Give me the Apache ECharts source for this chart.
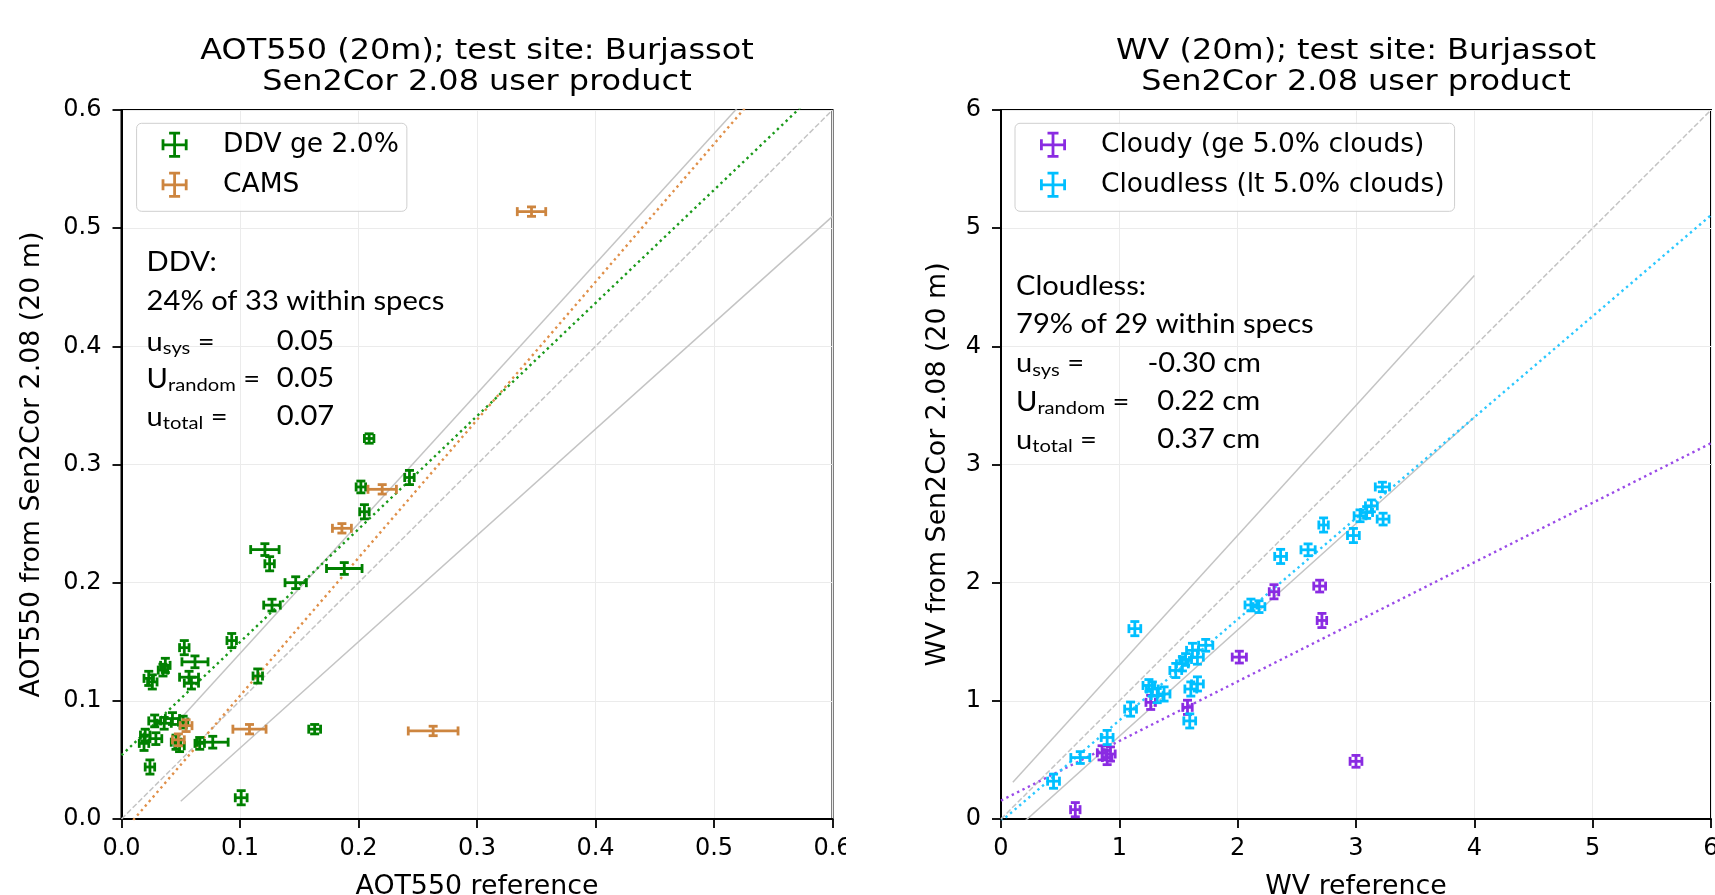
<!DOCTYPE html>
<html><head><meta charset="utf-8">
<script src="https://cdn.jsdelivr.net/npm/echarts@6/dist/echarts.min.js"></script>
<style>html,body{margin:0;padding:0;background:#fff}#c{width:1715px;height:895px}</style>
</head><body><div id="c"></div>
<script>
// ---------------- DATA ----------------
// [x, y, xerr, yerr]
const ddvPoints = [
  [0.101,0.018,0.005,0.006],[0.024,0.044,0.004,0.006],[0.019,0.064,0.004,0.006],
  [0.020,0.071,0.004,0.005],[0.029,0.068,0.005,0.005],[0.028,0.083,0.005,0.005],
  [0.036,0.081,0.006,0.005],[0.043,0.085,0.006,0.005],[0.046,0.065,0.004,0.006],
  [0.066,0.064,0.004,0.005],[0.077,0.065,0.013,0.005],[0.023,0.119,0.004,0.006],
  [0.026,0.116,0.004,0.006],[0.037,0.130,0.004,0.006],[0.035,0.126,0.004,0.005],
  [0.053,0.145,0.004,0.006],[0.062,0.133,0.011,0.005],[0.057,0.120,0.008,0.005],
  [0.059,0.115,0.006,0.005],[0.093,0.151,0.004,0.006],[0.115,0.121,0.004,0.006],
  [0.127,0.181,0.007,0.005],[0.147,0.200,0.009,0.005],[0.121,0.228,0.012,0.005],
  [0.125,0.216,0.004,0.006],[0.188,0.212,0.015,0.005],[0.163,0.076,0.005,0.004],
  [0.209,0.322,0.004,0.004],[0.202,0.281,0.004,0.005],[0.243,0.289,0.004,0.006],
  [0.205,0.260,0.004,0.006],[0.052,0.082,0.004,0.005],[0.049,0.062,0.004,0.005]
];
const camsPoints = [
  [0.0545,0.079,0.005,0.005],[0.048,0.067,0.005,0.005],[0.108,0.076,0.014,0.004],
  [0.186,0.246,0.008,0.004],[0.220,0.279,0.012,0.004],[0.263,0.0745,0.021,0.004],
  [0.346,0.514,0.012,0.004]
];
const cloudyPoints = [
  [0.628,0.079,0.04,0.06],[0.854,0.56,0.04,0.06],[0.897,0.52,0.04,0.06],
  [0.925,0.55,0.04,0.06],[1.265,0.987,0.04,0.06],[1.576,0.945,0.04,0.06],
  [2.014,1.37,0.06,0.05],[2.307,1.923,0.04,0.06],[2.693,1.971,0.05,0.05],
  [2.712,1.68,0.04,0.06],[3.0,0.488,0.05,0.05]
];
const cloudlessPoints = [
  [1.131,1.611,0.05,0.06],[0.444,0.32,0.05,0.06],[0.67,0.52,0.08,0.05],
  [0.897,0.69,0.05,0.06],[1.095,0.93,0.05,0.06],[1.279,1.10,0.05,0.06],
  [1.32,1.044,0.05,0.06],[1.378,1.058,0.05,0.06],[1.477,1.257,0.05,0.06],
  [1.533,1.313,0.05,0.06],[1.618,1.427,0.05,0.06],[1.66,1.37,0.05,0.06],
  [1.73,1.47,0.06,0.05],[1.604,1.10,0.05,0.06],[1.66,1.143,0.05,0.06],
  [1.595,0.83,0.05,0.06],[2.112,1.811,0.05,0.05],[2.18,1.797,0.05,0.05],
  [2.363,2.222,0.05,0.06],[2.595,2.278,0.06,0.05],[2.726,2.488,0.04,0.06],
  [2.978,2.399,0.05,0.06],[3.034,2.566,0.05,0.05],[3.09,2.594,0.05,0.05],
  [3.13,2.65,0.05,0.05],[3.223,2.81,0.06,0.04],[3.229,2.538,0.05,0.05],
  [1.25,1.13,0.05,0.05],[1.56,1.35,0.05,0.05]
];
// reference / spec / fit lines (end points)
const aotOneToOne  = [[0,0],[0.6,0.6]];
const aotSpecUpper = [[0.05,0.085],[0.6,0.69]];
const aotSpecLower = [[0.05,0.015],[0.6,0.51]];
const ddvFit       = [[0,0.054],[0.6,0.628]];
const camsFit      = [[0,-0.0125],[0.6,0.688]];
const wvOneToOne   = [[0,0],[6,6]];
const wvSpecUpper  = [[0.1,0.31],[4,4.6]];
const wvSpecLower  = [[0.1,-0.11],[4,3.4]];
const cloudyFit    = [[0,0.156],[6,3.18]];
const cloudlessFit = [[0,-0.02],[6,5.11]];
// tick settings
const aotTicks = {min:0, max:0.6, interval:0.1};
const wvTicks  = {min:0, max:6, interval:1};

// ---------------- CHART ----------------
const FONT = 'DejaVu Sans';
const TFONT = 'Lato';
const chart = echarts.init(document.getElementById('c'), null, {renderer:'canvas'});

function errRender(params, api) {
  const x = api.value(0), y = api.value(1), ex = api.value(2), ey = api.value(3);
  const l = api.coord([x-ex, y]), r = api.coord([x+ex, y]);
  const b = api.coord([x, y-ey]), t = api.coord([x, y+ey]);
  const cap = 4.5;
  const st = {stroke: api.visual('color'), lineWidth: 2.8};
  const ln = (x1,y1,x2,y2) => ({type:'line', shape:{x1,y1,x2,y2}, style:st});
  return {type:'group', children:[
    ln(l[0],l[1],r[0],r[1]),
    ln(b[0],b[1],t[0],t[1]),
    ln(l[0],l[1]-cap,l[0],l[1]+cap),
    ln(r[0],r[1]-cap,r[0],r[1]+cap),
    ln(b[0]-cap,b[1],b[0]+cap,b[1]),
    ln(t[0]-cap,t[1],t[0]+cap,t[1])
  ]};
}
const errIcon = 'path://M0,11.6h26v2.8h-26zM11.6,0h2.8v26h-2.8zM0,7.5h2.8v11h-2.8zM23.2,7.5h2.8v11h-2.8zM7.5,0h11v2.8h-11zM7.5,23.2h11v2.8h-11z';

function axisCommon(t, fmt) {
  return {
    type:'value', min:t.min, max:t.max, interval:t.interval,
    axisLine:{show:true, onZero:false, lineStyle:{color:'#000', width:2}},
    axisTick:{show:true, length:9, lineStyle:{color:'#000', width:1.8}},
    axisLabel:{fontFamily:FONT, fontSize:24, color:'#000', formatter:fmt},
    splitLine:{show:true, lineStyle:{color:'#ebebeb', width:1}},
    nameLocation:'middle',
    nameTextStyle:{fontFamily:FONT, fontSize:26.8, color:'#000'}
  };
}
const f1 = v => v.toFixed(1);
const f0 = v => String(Math.round(v));

function lineSeries(data, xi, color, type, width, z) {
  return {type:'line', xAxisIndex:xi, yAxisIndex:xi, data:data, symbol:'none', showSymbol:false,
    silent:true, clip:true, z:z, animation:false,
    lineStyle:{color:color, width:width, type:type}};
}
function errSeries(name, data, xi, color) {
  return {type:'custom', name:name, xAxisIndex:xi, yAxisIndex:xi, data:data,
    renderItem:errRender, itemStyle:{color:color}, encode:{x:0, y:1}, clip:true, z:5, animation:false};
}

const GREEN = '#008000', ORANGE = '#cd853f', PURPLE = '#8a2be2', CYAN = '#00bfff';
const GRAY = '#c4c4c4';
const DASH = [5.5, 2.4], DOT = [2.4, 3.6];

function txt(x, y, s, opts) {
  return Object.assign({type:'text', x:x, y:y, z:100, scaleX:1.12,
    style:{text:s, fontFamily:TFONT, fontSize:26, fill:'#000', verticalAlign:'middle', align:'left'}}, opts||{});
}
function subTxt(x, y, base, sub) {
  return {type:'text', x:x, y:y+1.5, z:100, scaleX:1.12,
    style:{text:'{b|'+base+'}{s|'+sub+'}{b| =}', verticalAlign:'middle', align:'left', fill:'#000',
      rich:{
        b:{fontFamily:TFONT, fontSize:26, lineHeight:28, verticalAlign:'top', padding:[0,0,3,0], fill:'#000'},
        s:{fontFamily:TFONT, fontSize:18, lineHeight:18, verticalAlign:'bottom', fill:'#000'}
      }}};
}
function title(x, s1, s2) {
  return [
    {type:'text', x:x, y:51.5, z:100, scaleX:1.14, style:{text:s1, fontFamily:FONT, fontSize:28, fill:'#000', align:'center', verticalAlign:'middle'}},
    {type:'text', x:x, y:82.5, z:100, scaleX:1.14, style:{text:s2, fontFamily:FONT, fontSize:28, fill:'#000', align:'center', verticalAlign:'middle'}}
  ];
}

const legendCommon = {
  orient:'vertical', top:123.3, itemWidth:26, itemHeight:26, itemGap:13,
  backgroundColor:'rgba(255,255,255,0.85)', borderColor:'#cfcfcf', borderWidth:1, borderRadius:5,
  selectedMode:false
};

const option = {
  animation:false,
  backgroundColor:'#fff',
  grid:[
    {left:121.5, top:110, width:711, height:709, containLabel:false, outerBoundsMode:'none', show:true, borderColor:'#000', borderWidth:2, backgroundColor:'rgba(0,0,0,0)'},
    {left:1001, top:110, width:710, height:709, containLabel:false, outerBoundsMode:'none', show:true, borderColor:'#000', borderWidth:2, backgroundColor:'rgba(0,0,0,0)'}
  ],
  xAxis:[
    Object.assign(axisCommon(aotTicks, f1), {gridIndex:0, name:'AOT550 reference', nameGap:55}),
    Object.assign(axisCommon(wvTicks, f0), {gridIndex:1, name:'WV reference', nameGap:55})
  ],
  yAxis:[
    Object.assign(axisCommon(aotTicks, f1), {gridIndex:0, name:'AOT550 from Sen2Cor 2.08 (20 m)', nameGap:75.5, nameRotate:90}),
    Object.assign(axisCommon(wvTicks, f0), {gridIndex:1, name:'WV from Sen2Cor 2.08 (20 m)', nameGap:49, nameRotate:90})
  ],
  legend:[
    Object.assign({}, legendCommon, {
      data:[{name:'DDV ge 2.0%', icon:errIcon},{name:'CAMS', icon:errIcon}],
      left:136.6, padding:[8,8,13,25],
      textStyle:{fontFamily:FONT, fontSize:26.5, color:'#000', padding:[0,0,0,30.5]}}),
    Object.assign({}, legendCommon, {
      data:[{name:'Cloudy (ge 5.0% clouds)', icon:errIcon},{name:'Cloudless (lt 5.0% clouds)', icon:errIcon}],
      left:1015, padding:[8,10,13,25],
      textStyle:{fontFamily:FONT, fontSize:26.5, color:'#000', padding:[0,0,0,30]}})
  ],
  series:[
    lineSeries(aotOneToOne, 0, GRAY, DASH, 1.5, 1),
    lineSeries(aotSpecUpper, 0, GRAY, 'solid', 1.5, 1),
    lineSeries(aotSpecLower, 0, GRAY, 'solid', 1.5, 1),
    lineSeries(ddvFit, 0, '#1a9a1a', DOT, 2.4, 2),
    lineSeries(camsFit, 0, '#e0904a', DOT, 2.4, 2),
    errSeries('DDV ge 2.0%', ddvPoints, 0, GREEN),
    errSeries('CAMS', camsPoints, 0, ORANGE),
    lineSeries(wvOneToOne, 1, GRAY, DASH, 1.5, 1),
    lineSeries(wvSpecUpper, 1, GRAY, 'solid', 1.5, 1),
    lineSeries(wvSpecLower, 1, GRAY, 'solid', 1.5, 1),
    lineSeries(cloudyFit, 1, '#9a4ae8', DOT, 2.4, 2),
    lineSeries(cloudlessFit, 1, '#2cc8ff', DOT, 2.4, 2),
    errSeries('Cloudy (ge 5.0% clouds)', cloudyPoints, 1, PURPLE),
    errSeries('Cloudless (lt 5.0% clouds)', cloudlessPoints, 1, CYAN)
  ],
  graphic:{elements:[].concat(
    title(477, 'AOT550 (20m); test site: Burjassot', 'Sen2Cor 2.08 user product'),
    title(1356, 'WV (20m); test site: Burjassot', 'Sen2Cor 2.08 user product'),
    [
      txt(146.6, 263, 'DDV:'),
      txt(146.6, 301.7, '24% of 33 within specs'),
      subTxt(146.6, 341.7, 'u', 'sys'),
      subTxt(146.6, 379, 'U', 'random'),
      subTxt(146.6, 416.7, 'u', 'total'),
      txt(276.7, 341.7, '0.05'),
      txt(276.7, 379, '0.05'),
      txt(276.7, 416.7, '0.07'),
      txt(1016, 286.7, 'Cloudless:'),
      txt(1016, 325, '79% of 29 within specs'),
      subTxt(1016, 363.3, 'u', 'sys'),
      subTxt(1016, 401.7, 'U', 'random'),
      subTxt(1016, 440, 'u', 'total'),
      txt(1147.4, 363.3, '-0.30 cm'),
      txt(1157.3, 401.7, '0.22 cm'),
      txt(1157.3, 440, '0.37 cm'),
      {type:'rect', z:200, shape:{x:846, y:828, width:40, height:45}, style:{fill:'#fff'}}
    ]
  )}
};
option.yAxis.forEach(a => { a.axisLabel.margin = 20; });
option.xAxis.forEach(a => { a.axisLabel.margin = 18; });
chart.setOption(option);
</script></body></html>
